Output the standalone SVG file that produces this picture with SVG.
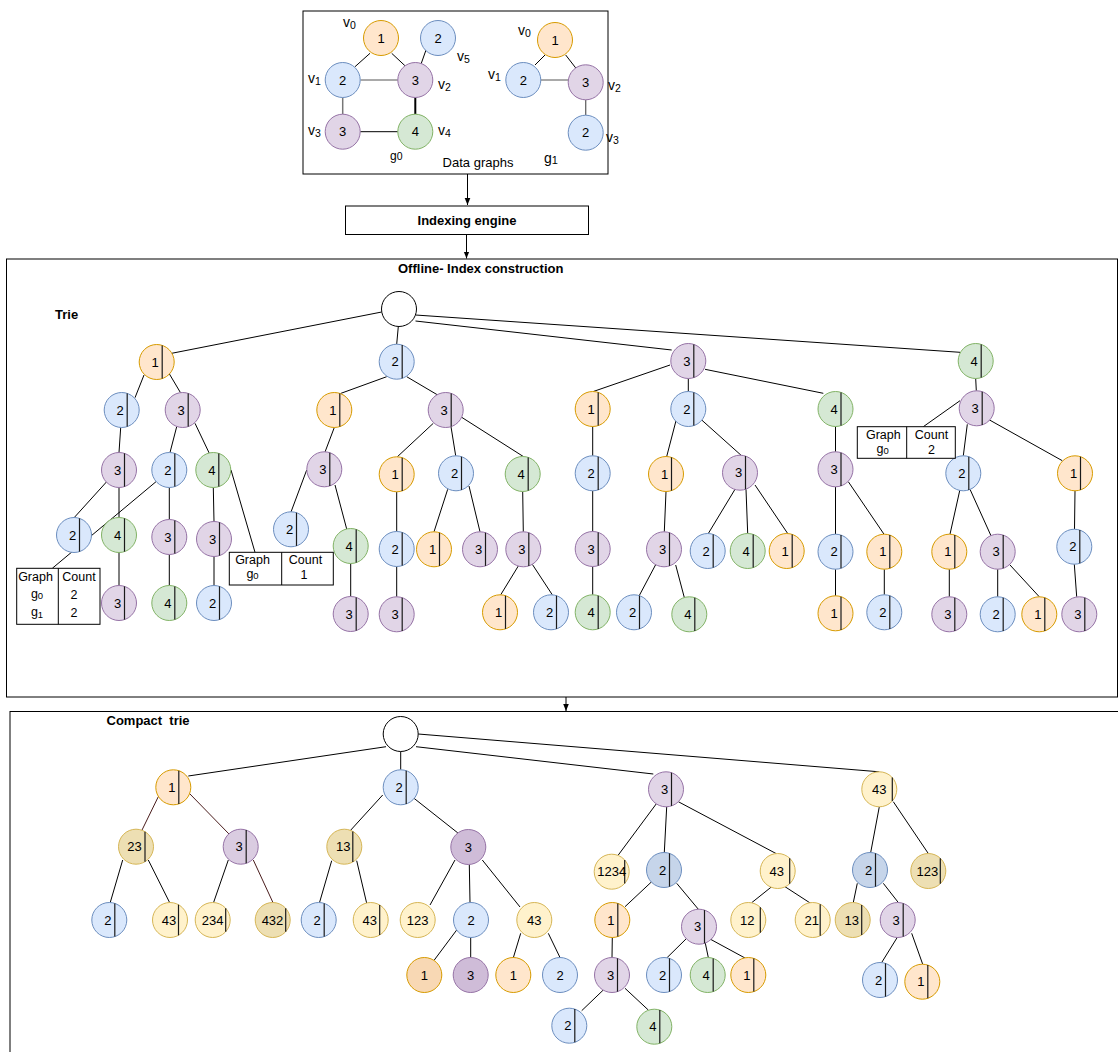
<svg xmlns="http://www.w3.org/2000/svg" xmlns:xlink="http://www.w3.org/1999/xlink" width="1118" height="1052" viewBox="0 0 1118 1052">
<style>
text{font-family:"Liberation Sans",Arial,sans-serif;fill:#000}
.t{font-size:13px;text-anchor:middle}
.c{text-anchor:middle;font-size:12.5px}
.v{font-size:14px}
.s{font-size:10.5px}
.bold{font-weight:bold;font-size:13px}
.e line{stroke:#000;stroke-width:1;fill:none}
.e line.br{stroke:#4a1c1c}
.box{fill:#fff;stroke:#000;stroke-width:1}
.dv{stroke:#1a1a1a;stroke-width:1.2}
.o{fill:#ffe6cc;stroke:#d79b00;stroke-width:1}
.od{fill:#f8d8b4;stroke:#d79b00;stroke-width:1}
.b{fill:#dae8fc;stroke:#6c8ebf;stroke-width:1}
.bd{fill:#c6d5ea;stroke:#6c8ebf;stroke-width:1}
.p{fill:#e1d5e7;stroke:#9673a6;stroke-width:1}
.pl{fill:#dacce1;stroke:#9673a6;stroke-width:1}
.pd{fill:#cfbcd8;stroke:#9673a6;stroke-width:1}
.g{fill:#d5e8d4;stroke:#82b366;stroke-width:1}
.y{fill:#fff2cc;stroke:#d6b656;stroke-width:1}
.yd{fill:#eddfb3;stroke:#d6b656;stroke-width:1}
.w{fill:#fff;stroke:#000;stroke-width:1}
</style>
<defs>
<marker id="ar" viewBox="0 0 10 10" refX="10" refY="5" markerWidth="7" markerHeight="7" orient="auto" markerUnits="userSpaceOnUse"><path d="M0,1 L10,5 L0,9 z" fill="#000"/></marker>
<circle id="n0" r="17.5"/>
<g id="n"><circle r="17.5"/><line class="dv" x1="5.5" y1="-16.6" x2="5.5" y2="16.6"/></g>
<g id="n7"><circle r="17.5"/><line class="dv" x1="7.5" y1="-15.8" x2="7.5" y2="15.8"/></g>
<g id="n8"><circle r="17.5"/><line class="dv" x1="8.5" y1="-15.3" x2="8.5" y2="15.3"/></g>
<g id="n9"><circle r="17.5"/><line class="dv" x1="9" y1="-15" x2="9" y2="15"/></g>
<g id="n12"><circle r="17.5"/><line class="dv" x1="12" y1="-12.7" x2="12" y2="12.7"/></g>
<g id="n13"><circle r="17.5"/><line class="dv" x1="13" y1="-11.7" x2="13" y2="11.7"/></g>
</defs>
<rect width="1118" height="1052" fill="#fff"/>

<!-- containers -->
<g id="data-graphs-box"><rect class="box" x="303" y="11" width="305" height="163"/><text x="478" y="167" style="font-size:13px;text-anchor:middle">Data graphs</text></g>
<g id="indexing-engine"><rect class="box" x="345.5" y="206" width="243" height="28.5"/><text class="bold" x="467" y="224.5" text-anchor="middle">Indexing engine</text></g>
<g id="offline-box"><rect x="6.5" y="259" width="1111" height="438" fill="none" stroke="#000"/><text class="bold" x="398" y="272.5">Offline- Index construction</text><text class="bold" x="55" y="318.5">Trie</text></g>
<g id="compact-box"><rect x="10" y="711.5" width="1120" height="360" fill="none" stroke="#000"/><text class="bold" x="106.5" y="725" style="white-space:pre">Compact  trie</text></g>

<!-- connectors -->
<g id="connectors" class="e">
<line x1="467.5" y1="174" x2="467.5" y2="205" marker-end="url(#ar)"/>
<line x1="466.5" y1="234.5" x2="466.5" y2="258.5" marker-end="url(#ar)"/>
<line x1="566" y1="697" x2="566" y2="711" marker-end="url(#ar)"/>
<!-- data graph g0 -->
<line x1="355" y1="66.7" x2="370" y2="53.3"/>
<line x1="391.7" y1="53.3" x2="406" y2="66.7"/>
<line x1="426" y1="50" x2="420.7" y2="65"/>
<line x1="360.5" y1="80" x2="397.8" y2="80" style="stroke:#555"/>
<line x1="342.7" y1="97.5" x2="342.7" y2="114.2" style="stroke:#777;stroke-width:1.5"/>
<line x1="415.3" y1="97.5" x2="415.3" y2="114.2" style="stroke-width:2"/>
<line x1="360.2" y1="131.7" x2="397.8" y2="131.7"/>
<!-- data graph g1 -->
<line x1="535" y1="65" x2="545" y2="55"/>
<line x1="565.7" y1="55" x2="576" y2="68.3"/>
<line x1="540.8" y1="80" x2="568.2" y2="80" style="stroke:#555"/>
<line x1="585.7" y1="99.8" x2="585.7" y2="115.2" style="stroke:#666;stroke-width:1.3"/>
<!-- trie -->
<line x1="381.7" y1="312" x2="171.7" y2="353.3"/>
<line x1="398.3" y1="326.5" x2="396.7" y2="344.2"/>
<line x1="415.5" y1="321" x2="671.7" y2="350"/>
<line x1="415.5" y1="315" x2="960" y2="352.3"/>
<line x1="144" y1="375" x2="135" y2="397.7"/>
<line x1="169" y1="373.3" x2="180.5" y2="392.7"/>
<line x1="120.7" y1="427.5" x2="119" y2="452.5"/>
<line x1="176.7" y1="426.7" x2="170" y2="452.5"/>
<line x1="195" y1="423.3" x2="209.3" y2="453.3"/>
<line x1="106.7" y1="481.7" x2="74" y2="517.8"/>
<line x1="119" y1="487.5" x2="119" y2="517.5"/>
<line x1="169.3" y1="487.5" x2="169.3" y2="519.5"/>
<line x1="213.3" y1="487.5" x2="214" y2="521.5"/>
<line x1="156" y1="481.7" x2="52.3" y2="568.3"/>
<line x1="231" y1="470" x2="255" y2="552.3"/>
<line x1="119" y1="552.5" x2="119" y2="585.5"/>
<line x1="169.3" y1="554.5" x2="169.3" y2="585.5"/>
<line x1="214" y1="556.5" x2="214" y2="585.5"/>
<line x1="386.7" y1="376.7" x2="341" y2="393.3"/>
<line x1="406.7" y1="376.7" x2="437.7" y2="395"/>
<line x1="334.3" y1="427.5" x2="325" y2="452"/>
<line x1="306.7" y1="470" x2="291" y2="512"/>
<line x1="335" y1="485" x2="346.7" y2="529"/>
<line x1="350.7" y1="563.5" x2="350.7" y2="596.5"/>
<line x1="433.3" y1="423.3" x2="397.3" y2="456.8"/>
<line x1="451" y1="426.7" x2="455.7" y2="455.8"/>
<line x1="461.7" y1="417.3" x2="523.3" y2="456.5"/>
<line x1="396.7" y1="491.8" x2="396.7" y2="531.5"/>
<line x1="396.7" y1="566.5" x2="396.7" y2="596.8"/>
<line x1="447.7" y1="489.3" x2="434" y2="531.8"/>
<line x1="469" y1="486" x2="480" y2="531.8"/>
<line x1="522.7" y1="491.5" x2="523.3" y2="531.8"/>
<line x1="518.3" y1="566" x2="500.7" y2="594.8"/>
<line x1="532.3" y1="564.3" x2="552.3" y2="594.8"/>
<line x1="670" y1="365" x2="593.3" y2="391.5"/>
<line x1="688.3" y1="378.5" x2="688.3" y2="391.5"/>
<line x1="705" y1="369.3" x2="823.3" y2="393.3"/>
<line x1="592.7" y1="426.5" x2="592.7" y2="455.8"/>
<line x1="592.7" y1="490.8" x2="592.7" y2="531.5"/>
<line x1="592.7" y1="566.5" x2="592.7" y2="594.8"/>
<line x1="676" y1="420.7" x2="666.7" y2="456.5"/>
<line x1="701.7" y1="420" x2="741" y2="455.2"/>
<line x1="666" y1="491.5" x2="664.3" y2="531.8"/>
<line x1="656" y1="564" x2="639.3" y2="595.5"/>
<line x1="675.7" y1="565" x2="684.3" y2="597.5"/>
<line x1="735" y1="489.3" x2="708.3" y2="533.5"/>
<line x1="746" y1="489.3" x2="747.7" y2="533.5"/>
<line x1="755" y1="485" x2="787.7" y2="533.5"/>
<line x1="835.5" y1="426.5" x2="835.5" y2="451.8"/>
<line x1="835.5" y1="486.8" x2="835.5" y2="534.2"/>
<line x1="848.3" y1="481.7" x2="884" y2="534.2"/>
<line x1="835.5" y1="569.2" x2="835.5" y2="595.8"/>
<line x1="884.3" y1="569.2" x2="884.3" y2="594.8"/>
<line x1="975.7" y1="378.5" x2="976.3" y2="390.8"/>
<line x1="960" y1="400.7" x2="923.3" y2="426.7"/>
<line x1="967.3" y1="424.3" x2="963.3" y2="455.8"/>
<line x1="988.3" y1="419.3" x2="1062.3" y2="460.7"/>
<line x1="960" y1="489.3" x2="950" y2="534.2"/>
<line x1="970" y1="489.3" x2="991.7" y2="537.3"/>
<line x1="949.3" y1="569.2" x2="949.3" y2="596.8"/>
<line x1="997.7" y1="569.2" x2="997.7" y2="596.8"/>
<line x1="1010" y1="565" x2="1039.3" y2="596.8"/>
<line x1="1075" y1="490.8" x2="1074.5" y2="529.2"/>
<line x1="1074.3" y1="564.2" x2="1076.7" y2="596.8"/>
<!-- compact trie -->
<line x1="386" y1="746.7" x2="188.3" y2="776"/>
<line x1="400.7" y1="751.5" x2="400.7" y2="769.8"/>
<line x1="416" y1="746.7" x2="653.3" y2="774"/>
<line x1="418.2" y1="734" x2="879.3" y2="771.8"/>
<line class="br" x1="158.3" y1="796.7" x2="141.7" y2="830.7"/>
<line class="br" x1="189.3" y1="793.3" x2="229" y2="834"/>
<line x1="122.7" y1="860" x2="110" y2="903.3"/>
<line x1="148.3" y1="860" x2="170" y2="903.3"/>
<line x1="228.3" y1="860" x2="213.3" y2="903.3"/>
<line class="br" x1="253.3" y1="860" x2="273.3" y2="903.3"/>
<line x1="382.7" y1="795" x2="349.3" y2="831.7"/>
<line x1="414" y1="798.3" x2="458.3" y2="833.3"/>
<line x1="331.7" y1="860.7" x2="319.3" y2="903.3"/>
<line x1="356.7" y1="860.7" x2="366.7" y2="903.3"/>
<line x1="455" y1="860" x2="430" y2="905"/>
<line x1="469.3" y1="864.5" x2="470" y2="902.5"/>
<line x1="482.3" y1="860" x2="520" y2="907"/>
<line x1="456.7" y1="930" x2="434.3" y2="960"/>
<line x1="470.7" y1="937.5" x2="470.7" y2="957.5"/>
<line x1="520.7" y1="933.3" x2="513.3" y2="957.8"/>
<line x1="548.3" y1="933.3" x2="560" y2="957.5"/>
<line x1="656.7" y1="803.3" x2="618.3" y2="855"/>
<line x1="666.7" y1="806.8" x2="664.3" y2="852.5"/>
<line x1="678.3" y1="801.7" x2="776" y2="853.5"/>
<line x1="651.7" y1="881.7" x2="625" y2="906.7"/>
<line x1="676.7" y1="883.3" x2="698.3" y2="909.2"/>
<line x1="612.3" y1="937.5" x2="612" y2="957.5"/>
<line x1="686.7" y1="938.3" x2="666.7" y2="958"/>
<line x1="705" y1="941.7" x2="708.3" y2="957.5"/>
<line x1="710" y1="939" x2="745" y2="958"/>
<line x1="603.3" y1="990" x2="581.7" y2="1010.7"/>
<line x1="625" y1="988.3" x2="648.3" y2="1010"/>
<line x1="771.7" y1="886.7" x2="751.7" y2="902.7"/>
<line x1="785" y1="886.7" x2="811.7" y2="904"/>
<line x1="879.3" y1="806.8" x2="870.7" y2="852.5"/>
<line x1="893.3" y1="801.7" x2="928.3" y2="853.5"/>
<line x1="857.3" y1="883.3" x2="853.3" y2="902.5"/>
<line x1="883.3" y1="883.3" x2="898.3" y2="902.5"/>
<line x1="897.7" y1="936.7" x2="881.7" y2="962.5"/>
<line x1="911.7" y1="933.3" x2="922.7" y2="964.2"/>
</g>

<!-- data graph nodes -->
<g id="g0-v0"><use href="#n0" x="381" y="38" class="o"/><text class="t" x="381" y="42.6">1</text></g>
<g id="g0-v5"><use href="#n0" x="438" y="38" class="b"/><text class="t" x="438" y="42.6">2</text></g>
<g id="g0-v1"><use href="#n0" x="342.7" y="80" class="b"/><text class="t" x="342.7" y="84.6">2</text></g>
<g id="g0-v2"><use href="#n0" x="415.3" y="80" class="p"/><text class="t" x="415.3" y="84.6">3</text></g>
<g id="g0-v3"><use href="#n0" x="342.7" y="131.7" class="p"/><text class="t" x="342.7" y="136.3">3</text></g>
<g id="g0-v4"><use href="#n0" x="415.3" y="131.7" class="g"/><text class="t" x="415.3" y="136.3">4</text></g>
<g id="g1-v0"><use href="#n0" x="555" y="40" class="o"/><text class="t" x="555" y="44.6">1</text></g>
<g id="g1-v1"><use href="#n0" x="523.3" y="80" class="b"/><text class="t" x="523.3" y="84.6">2</text></g>
<g id="g1-v2"><use href="#n0" x="585.7" y="82.3" class="p"/><text class="t" x="585.7" y="86.9">3</text></g>
<g id="g1-v3"><use href="#n0" x="585.7" y="132.7" class="b"/><text class="t" x="585.7" y="137.3">2</text></g>
<g id="labels-g0">
<text class="v" x="343" y="26.5">v<tspan class="s" dy="2.5">0</tspan></text>
<text class="v" x="457" y="60.5">v<tspan class="s" dy="2">5</tspan></text>
<text class="v" x="308" y="83">v<tspan class="s" dy="2">1</tspan></text>
<text class="v" x="438" y="89">v<tspan class="s" dy="2">2</tspan></text>
<text class="v" x="308" y="135">v<tspan class="s" dy="2">3</tspan></text>
<text class="v" x="438" y="135">v<tspan class="s" dy="2">4</tspan></text>
<text x="390" y="160" style="font-size:12px">g<tspan style="font-size:10.5px">0</tspan></text>
</g>
<g id="labels-g1">
<text class="v" x="518" y="35">v<tspan class="s" dy="2">0</tspan></text>
<text class="v" x="488" y="79">v<tspan class="s" dy="2">1</tspan></text>
<text class="v" x="608" y="90">v<tspan class="s" dy="2">2</tspan></text>
<text class="v" x="606" y="141.5">v<tspan class="s" dy="2">3</tspan></text>
<text x="544" y="163" style="font-size:14px">g<tspan style="font-size:11px" dy="1">1</tspan></text>
</g>

<!-- trie nodes -->
<g id="trie-root"><use href="#n0" x="399" y="309" class="w"/></g>
<g id="A1"><use href="#n" x="156.7" y="362" class="o"/><text class="t" x="155.2" y="366.6">1</text></g>
<g id="A2"><use href="#n" x="396.7" y="361.7" class="b"/><text class="t" x="395.2" y="366.3">2</text></g>
<g id="A3"><use href="#n" x="688.3" y="361" class="p"/><text class="t" x="686.8" y="365.6">3</text></g>
<g id="A4"><use href="#n" x="975.7" y="361" class="g"/><text class="t" x="974.2" y="365.6">4</text></g>
<g id="B12"><use href="#n" x="121.7" y="410" class="b"/><text class="t" x="120.2" y="414.6">2</text></g>
<g id="B13"><use href="#n" x="182.7" y="410" class="p"/><text class="t" x="181.2" y="414.6">3</text></g>
<g id="C123"><use href="#n" x="119" y="470" class="p"/><text class="t" x="117.5" y="474.6">3</text></g>
<g id="C132"><use href="#n" x="169.3" y="470" class="b"/><text class="t" x="167.8" y="474.6">2</text></g>
<g id="C134"><use href="#n" x="213.3" y="470" class="g"/><text class="t" x="211.8" y="474.6">4</text></g>
<g id="D1232"><use href="#n" x="74" y="535" class="b"/><text class="t" x="72.5" y="539.6">2</text></g>
<g id="D1234"><use href="#n" x="119" y="535" class="g"/><text class="t" x="117.5" y="539.6">4</text></g>
<g id="D1323"><use href="#n" x="169.3" y="537" class="p"/><text class="t" x="167.8" y="541.6">3</text></g>
<g id="D1343"><use href="#n" x="214" y="539" class="p"/><text class="t" x="212.5" y="543.6">3</text></g>
<g id="E12343"><use href="#n" x="119" y="603" class="p"/><text class="t" x="117.5" y="607.6">3</text></g>
<g id="E13234"><use href="#n" x="169.3" y="603" class="g"/><text class="t" x="167.8" y="607.6">4</text></g>
<g id="E13432"><use href="#n" x="214" y="603" class="b"/><text class="t" x="212.5" y="607.6">2</text></g>
<g id="B21"><use href="#n" x="334.3" y="410" class="o"/><text class="t" x="332.8" y="414.6">1</text></g>
<g id="B23"><use href="#n" x="445.7" y="410" class="p"/><text class="t" x="444.2" y="414.6">3</text></g>
<g id="C213"><use href="#n" x="324.3" y="469.3" class="p"/><text class="t" x="322.8" y="473.9">3</text></g>
<g id="C231"><use href="#n" x="396.7" y="474.3" class="o"/><text class="t" x="395.2" y="478.9">1</text></g>
<g id="C232"><use href="#n" x="456" y="473.3" class="b"/><text class="t" x="454.5" y="477.9">2</text></g>
<g id="C234"><use href="#n" x="522.7" y="474" class="g"/><text class="t" x="521.2" y="478.6">4</text></g>
<g id="D2132"><use href="#n" x="291" y="529.3" class="b"/><text class="t" x="289.5" y="533.9">2</text></g>
<g id="D2134"><use href="#n" x="350.7" y="546" class="g"/><text class="t" x="349.2" y="550.6">4</text></g>
<g id="D2312"><use href="#n" x="396.7" y="549" class="b"/><text class="t" x="395.2" y="553.6">2</text></g>
<g id="D2321"><use href="#n" x="434" y="549.3" class="o"/><text class="t" x="432.5" y="553.9">1</text></g>
<g id="D2323"><use href="#n" x="480" y="549.3" class="p"/><text class="t" x="478.5" y="553.9">3</text></g>
<g id="D2343"><use href="#n" x="523.3" y="549.3" class="p"/><text class="t" x="521.8" y="553.9">3</text></g>
<g id="E21343"><use href="#n" x="350.7" y="614" class="p"/><text class="t" x="349.2" y="618.6">3</text></g>
<g id="E23123"><use href="#n" x="396.7" y="614.3" class="p"/><text class="t" x="395.2" y="618.9">3</text></g>
<g id="E23431"><use href="#n" x="500" y="612.3" class="o"/><text class="t" x="498.5" y="616.9">1</text></g>
<g id="E23432"><use href="#n" x="551" y="612.3" class="b"/><text class="t" x="549.5" y="616.9">2</text></g>
<g id="B31"><use href="#n" x="592.7" y="409" class="o"/><text class="t" x="591.2" y="413.6">1</text></g>
<g id="B32"><use href="#n" x="688.3" y="409" class="b"/><text class="t" x="686.8" y="413.6">2</text></g>
<g id="B34"><use href="#n" x="835.5" y="409" class="g"/><text class="t" x="834" y="413.6">4</text></g>
<g id="C312"><use href="#n" x="592.7" y="473.3" class="b"/><text class="t" x="591.2" y="477.9">2</text></g>
<g id="C321"><use href="#n" x="666" y="474" class="o"/><text class="t" x="664.5" y="478.6">1</text></g>
<g id="C323"><use href="#n" x="740" y="472.7" class="p"/><text class="t" x="738.5" y="477.3">3</text></g>
<g id="C343"><use href="#n" x="835.5" y="469.3" class="p"/><text class="t" x="834" y="473.9">3</text></g>
<g id="D3123"><use href="#n" x="592.7" y="549" class="p"/><text class="t" x="591.2" y="553.6">3</text></g>
<g id="D3213"><use href="#n" x="664" y="549.3" class="p"/><text class="t" x="662.5" y="553.9">3</text></g>
<g id="D3232"><use href="#n" x="707.7" y="551" class="b"/><text class="t" x="706.2" y="555.6">2</text></g>
<g id="D3234"><use href="#n" x="747.7" y="551" class="g"/><text class="t" x="746.2" y="555.6">4</text></g>
<g id="D3231"><use href="#n" x="786.7" y="551" class="o"/><text class="t" x="785.2" y="555.6">1</text></g>
<g id="D3432"><use href="#n" x="835.5" y="551.7" class="b"/><text class="t" x="834" y="556.3">2</text></g>
<g id="D3431"><use href="#n" x="884.3" y="551.7" class="o"/><text class="t" x="882.8" y="556.3">1</text></g>
<g id="E31234"><use href="#n" x="592.7" y="612.3" class="g"/><text class="t" x="591.2" y="616.9">4</text></g>
<g id="E32132"><use href="#n" x="634" y="612.3" class="b"/><text class="t" x="632.5" y="616.9">2</text></g>
<g id="E32134"><use href="#n" x="689.3" y="614.3" class="g"/><text class="t" x="687.8" y="618.9">4</text></g>
<g id="E34321"><use href="#n" x="835.5" y="613.3" class="o"/><text class="t" x="834" y="617.9">1</text></g>
<g id="E34312"><use href="#n" x="884.3" y="612.3" class="b"/><text class="t" x="882.8" y="616.9">2</text></g>
<g id="B43"><use href="#n" x="976.7" y="408.3" class="p"/><text class="t" x="975.2" y="412.9">3</text></g>
<g id="C432"><use href="#n" x="963.3" y="473.3" class="b"/><text class="t" x="961.8" y="477.9">2</text></g>
<g id="C431"><use href="#n" x="1075" y="473.3" class="o"/><text class="t" x="1073.5" y="477.9">1</text></g>
<g id="D4321"><use href="#n" x="949.3" y="551.7" class="o"/><text class="t" x="947.8" y="556.3">1</text></g>
<g id="D4323"><use href="#n" x="997.7" y="551.7" class="p"/><text class="t" x="996.2" y="556.3">3</text></g>
<g id="D4312"><use href="#n" x="1074.3" y="546.7" class="b"/><text class="t" x="1072.8" y="551.3">2</text></g>
<g id="E43213"><use href="#n" x="949.3" y="614.3" class="p"/><text class="t" x="947.8" y="618.9">3</text></g>
<g id="E43232"><use href="#n" x="997.7" y="614.3" class="b"/><text class="t" x="996.2" y="618.9">2</text></g>
<g id="E43231"><use href="#n" x="1039.3" y="614.3" class="o"/><text class="t" x="1037.8" y="618.9">1</text></g>
<g id="E43123"><use href="#n" x="1079.3" y="614.3" class="p"/><text class="t" x="1077.8" y="618.9">3</text></g>

<!-- count tables -->
<g id="table-1"><rect class="box" x="16.7" y="568.3" width="83.3" height="56"/><line x1="58.3" y1="568.3" x2="58.3" y2="624.3" stroke="#000"/>
<text class="c" x="35.5" y="580.5">Graph</text><text class="c" x="79" y="580.5">Count</text>
<text class="c" x="37" y="598">g<tspan style="font-size:9.5px" dy="1">0</tspan></text><text class="c" x="74" y="599">2</text>
<text class="c" x="37" y="616">g<tspan style="font-size:9.5px" dy="1.5">1</tspan></text><text class="c" x="74" y="617">2</text></g>
<g id="table-2"><rect class="box" x="229.3" y="552.3" width="104" height="32.7"/><line x1="281.7" y1="552.3" x2="281.7" y2="585" stroke="#000"/>
<text class="c" x="252.5" y="563.5">Graph</text><text class="c" x="305.5" y="563.5">Count</text>
<text class="c" x="252.5" y="578">g<tspan style="font-size:9.5px" dy="1">0</tspan></text><text class="c" x="304" y="578.5">1</text></g>
<g id="table-3"><rect class="box" x="857.3" y="426.7" width="98" height="31.6"/><line x1="906.7" y1="426.7" x2="906.7" y2="458.3" stroke="#000"/>
<text class="c" x="883.3" y="438.5">Graph</text><text class="c" x="931.5" y="438.5">Count</text>
<text class="c" x="882.7" y="452.5">g<tspan style="font-size:9.5px" dy="1">0</tspan></text><text class="c" x="931.5" y="453.5">2</text></g>

<!-- compact trie nodes -->
<g id="K-root"><use href="#n0" x="400.7" y="734" class="w"/></g>
<g id="K1"><use href="#n" x="173.3" y="787.3" class="o"/><text class="t" x="171.8" y="791.9">1</text></g>
<g id="K2"><use href="#n" x="400.7" y="787.3" class="b"/><text class="t" x="399.2" y="791.9">2</text></g>
<g id="K1-23"><use href="#n9" x="136" y="846.7" class="yd"/><text class="t" x="134.5" y="851.3">23</text></g>
<g id="K1-3"><use href="#n" x="240.7" y="846.7" class="pl"/><text class="t" x="239.2" y="851.3">3</text></g>
<g id="K2-13"><use href="#n8" x="344.3" y="846.7" class="yd"/><text class="t" x="343.3" y="851.3">13</text></g>
<g id="K2-3"><use href="#n0" x="468.3" y="847" class="pd"/><text class="t" x="468.3" y="851.6">3</text></g>
<g id="K1-23-2"><use href="#n" x="109.3" y="920" class="b"/><text class="t" x="107.8" y="924.6">2</text></g>
<g id="K1-23-43"><use href="#n8" x="170" y="920" class="y"/><text class="t" x="169" y="924.6">43</text></g>
<g id="K1-3-234"><use href="#n13" x="212.7" y="920" class="y"/><text class="t" x="212.7" y="924.6">234</text></g>
<g id="K1-3-432"><use href="#n13" x="272.7" y="920" class="yd"/><text class="t" x="272.5" y="924.6">432</text></g>
<g id="K2-13-2"><use href="#n" x="318.7" y="920" class="b"/><text class="t" x="317.2" y="924.6">2</text></g>
<g id="K2-13-43"><use href="#n9" x="370.7" y="920" class="y"/><text class="t" x="369.7" y="924.6">43</text></g>
<g id="K2-3-123"><use href="#n0" x="417.7" y="920" class="y"/><text class="t" x="417.7" y="924.6">123</text></g>
<g id="K2-3-2"><use href="#n0" x="471" y="920" class="b"/><text class="t" x="471" y="924.6">2</text></g>
<g id="K2-3-43"><use href="#n0" x="534.3" y="920" class="y"/><text class="t" x="534.3" y="924.6">43</text></g>
<g id="K2-3-2-1"><use href="#n0" x="424.3" y="975" class="od"/><text class="t" x="424.3" y="979.6">1</text></g>
<g id="K2-3-2-3"><use href="#n0" x="470.7" y="975" class="pd"/><text class="t" x="470.7" y="979.6">3</text></g>
<g id="K2-3-43-1"><use href="#n0" x="513.3" y="975" class="o"/><text class="t" x="513.3" y="979.6">1</text></g>
<g id="K2-3-43-2"><use href="#n0" x="560" y="975" class="b"/><text class="t" x="560" y="979.6">2</text></g>
<g id="K3"><use href="#n" x="666" y="789.3" class="p"/><text class="t" x="664.5" y="793.9">3</text></g>
<g id="K3-1234"><use href="#n13" x="611.7" y="871.7" class="y"/><text class="t" x="611.7" y="876.3">1234</text></g>
<g id="K3-2"><use href="#n" x="664" y="870" class="bd"/><text class="t" x="662.5" y="874.6">2</text></g>
<g id="K3-43"><use href="#n12" x="777.7" y="871" class="y"/><text class="t" x="776.7" y="875.6">43</text></g>
<g id="K3-2-1"><use href="#n" x="612.3" y="920" class="o"/><text class="t" x="610.8" y="924.6">1</text></g>
<g id="K3-2-3"><use href="#n" x="699" y="926.7" class="p"/><text class="t" x="697.5" y="931.3">3</text></g>
<g id="K3-43-12"><use href="#n12" x="748.3" y="920" class="y"/><text class="t" x="747.3" y="924.6">12</text></g>
<g id="K3-43-21"><use href="#n7" x="812.7" y="920" class="y"/><text class="t" x="811.7" y="924.6">21</text></g>
<g id="K3-2-1-3"><use href="#n" x="612" y="975" class="p"/><text class="t" x="610.5" y="979.6">3</text></g>
<g id="K3-2-3-2"><use href="#n" x="664" y="975" class="b"/><text class="t" x="662.5" y="979.6">2</text></g>
<g id="K3-2-3-4"><use href="#n" x="707.7" y="975" class="g"/><text class="t" x="706.2" y="979.6">4</text></g>
<g id="K3-2-3-1"><use href="#n" x="748.3" y="975" class="o"/><text class="t" x="746.8" y="979.6">1</text></g>
<g id="K3-2-1-3-2"><use href="#n" x="569.3" y="1025.7" class="b"/><text class="t" x="567.8" y="1030.3">2</text></g>
<g id="K3-2-1-3-4"><use href="#n" x="654.3" y="1026.7" class="g"/><text class="t" x="652.8" y="1031.3">4</text></g>
<g id="K43"><use href="#n13" x="879.3" y="789.3" class="y"/><text class="t" x="879.3" y="793.9">43</text></g>
<g id="K43-2"><use href="#n" x="870" y="870" class="bd"/><text class="t" x="868.5" y="874.6">2</text></g>
<g id="K43-123"><use href="#n12" x="928.3" y="871" class="yd"/><text class="t" x="927.3" y="875.6">123</text></g>
<g id="K43-2-13"><use href="#n9" x="852.7" y="920" class="yd"/><text class="t" x="851.7" y="924.6">13</text></g>
<g id="K43-2-3"><use href="#n" x="897.7" y="920" class="p"/><text class="t" x="896.2" y="924.6">3</text></g>
<g id="K43-2-3-2"><use href="#n" x="880" y="980" class="b"/><text class="t" x="878.5" y="984.6">2</text></g>
<g id="K43-2-3-1"><use href="#n" x="922.3" y="981.7" class="o"/><text class="t" x="920.8" y="986.3">1</text></g>
</svg>
